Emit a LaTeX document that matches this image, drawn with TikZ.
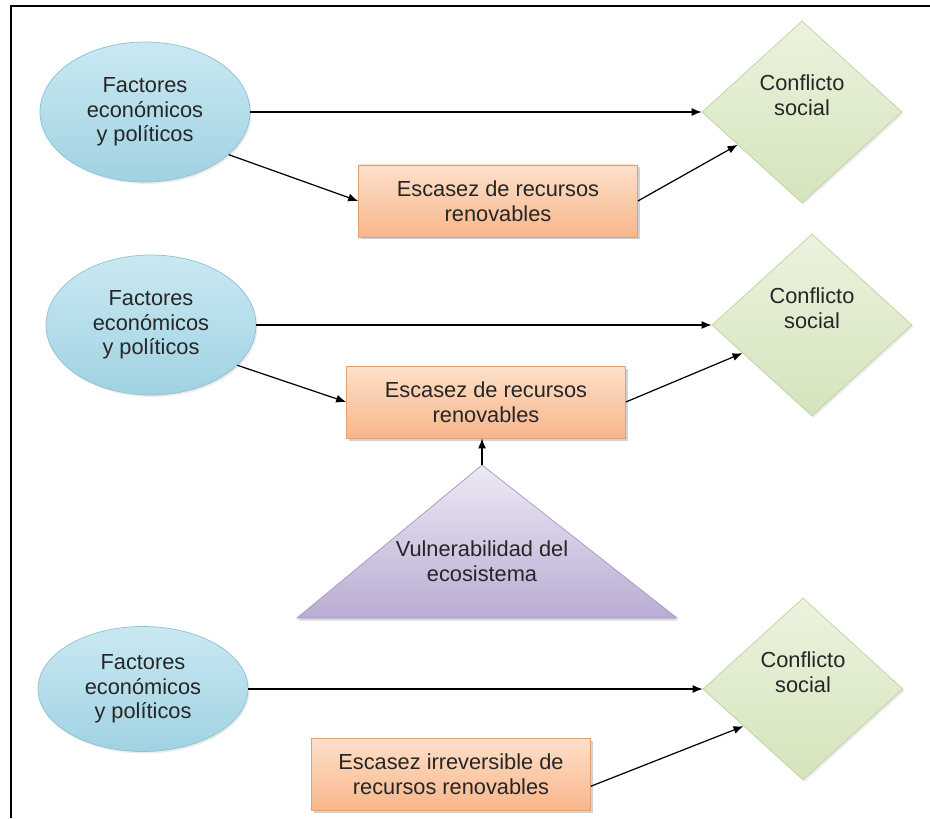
\documentclass[tikz,border=0pt]{standalone}
\usepackage{fontspec}
\setmainfont{Liberation Sans}
\usetikzlibrary{shapes.geometric,arrows.meta,shadows}

\definecolor{factortop}{RGB}{202,233,242}
\definecolor{factorbot}{RGB}{160,210,226}
\definecolor{factorline}{RGB}{140,192,212}
\definecolor{recursotop}{RGB}{253,224,202}
\definecolor{recursobot}{RGB}{248,182,138}
\definecolor{recursoline}{RGB}{226,160,115}
\definecolor{conflictotop}{RGB}{235,243,222}
\definecolor{conflictobot}{RGB}{212,228,188}
\definecolor{conflictoline}{RGB}{190,210,160}
\definecolor{vulntop}{RGB}{237,233,244}
\definecolor{vulnbot}{RGB}{186,172,211}
\definecolor{vulnline}{RGB}{165,150,195}

\begin{document}
\begin{tikzpicture}
\tikzstyle{every node}=[font=\fontsize{12.4}{14}\selectfont, text=black!85, align=center]
\tikzstyle{factor}=[ellipse, draw=factorline, top color=factortop, bottom color=factorbot, minimum width=4.2cm, minimum height=2.8cm, inner sep=0pt, drop shadow={opacity=0.15, shadow xshift=0.03cm, shadow yshift=-0.04cm}]
\tikzstyle{recurso}=[rectangle, draw=recursoline, top color=recursotop, bottom color=recursobot, minimum width=5.58cm, minimum height=1.44cm, drop shadow={opacity=0.35, shadow xshift=0.04cm, shadow yshift=-0.05cm}]
\tikzstyle{conflicto}=[diamond, draw=conflictoline, top color=conflictotop, bottom color=conflictobot, minimum width=4cm, minimum height=3.64cm, inner sep=0pt, drop shadow={opacity=0.15, shadow xshift=0.03cm, shadow yshift=-0.04cm}]
\tikzstyle{flecha}=[-{Latex[length=2mm,width=1.6mm]}, line width=0.7pt]

% page size and frame
\useasboundingbox (0,0) rectangle (18.6,16.36);
\draw[line width=1.4pt] (0.22,0) -- (0.22,16.24) -- (18.6,16.24);

% first row
\node[factor] (fact1) at (2.90,14.12) {Factores\\económicos\\y políticos};
\node[conflicto, label={[yshift=0.34cm]center:{Conflicto\\social}}] (conf1) at (16.04,14.12) {};
\node[recurso] (esc1) at (9.96,12.34) {Escasez de recursos\\renovables};

% second row
\node[factor] (fact2) at (3.02,9.86) {Factores\\económicos\\y políticos};
\node[conflicto, label={[yshift=0.34cm]center:{Conflicto\\social}}] (conf2) at (16.24,9.86) {};
\node[recurso] (esc2) at (9.72,8.32) {Escasez de recursos\\renovables};

% triangle under the second row
\coordinate (apex) at (9.64,7.06);
\path[draw=vulnline, top color=vulntop, bottom color=vulnbot, drop shadow={opacity=0.3, shadow xshift=0.02cm, shadow yshift=-0.05cm}] (5.94,4.00) -- (apex) -- (13.54,4.00) -- cycle;
\node (vuln) at (9.64,5.14) {Vulnerabilidad del\\ecosistema};

% third row
\node[factor, minimum height=2.5cm] (fact3) at (2.86,2.58) {Factores\\económicos\\y políticos};
\node[conflicto, label={[yshift=0.34cm]center:{Conflicto\\social}}] (conf3) at (16.06,2.58) {};
\node[recurso] (esc3) at (9.02,0.88) {Escasez irreversible de\\recursos renovables};

% arrows
\draw[flecha] (fact1) -- (conf1);
\draw[flecha] (fact1.-27) -- (esc1.west);
\draw[flecha] (esc1.east) -- (conf1.207);

\draw[flecha] (fact2) -- (conf2);
\draw[flecha] (fact2.-25) -- (esc2.west);
\draw[flecha] (esc2.east) -- (conf2.202);
\draw[flecha] (apex) -- (apex |- esc2.south);

\draw[flecha] (fact3) -- (conf3);
\draw[flecha] (esc3.-5) -- (conf3.212);

\end{tikzpicture}
\end{document}
